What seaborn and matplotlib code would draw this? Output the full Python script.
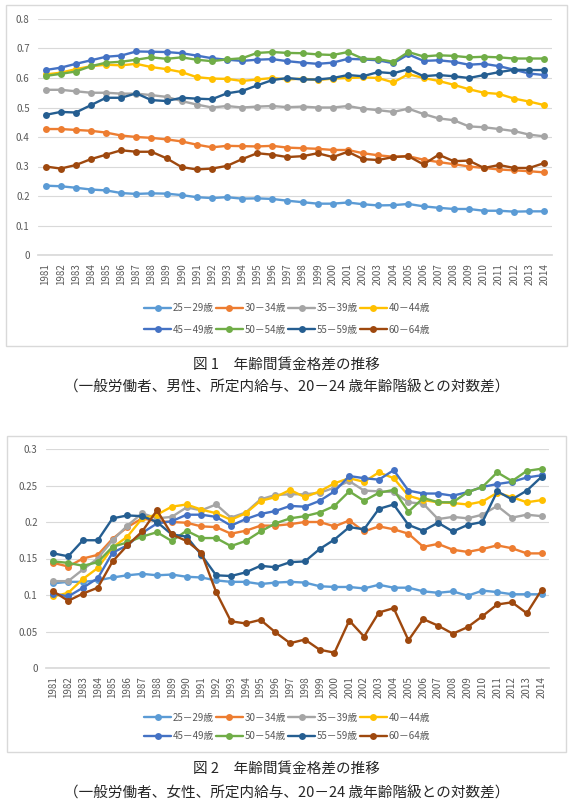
import numpy as np
import pandas as pd
import matplotlib
matplotlib.use("Agg")
import matplotlib.pyplot as plt
from matplotlib.patches import Rectangle
import seaborn as sns

years = list(range(1981, 2015))
ages = ["25－29歳", "30－34歳", "35－39歳", "40－44歳",
        "45－49歳", "50－54歳", "55－59歳", "60－64歳"]
colors = ["#5B9BD5", "#ED7D31", "#A5A5A5", "#FFC000",
          "#4472C4", "#70AD47", "#255E91", "#9E480E"]

# 図1 男性
male_25_29 = [0.235, 0.233, 0.228, 0.222, 0.219, 0.210, 0.207, 0.209, 0.208, 0.203, 0.196, 0.193,
              0.196, 0.191, 0.192, 0.190, 0.184, 0.179, 0.174, 0.174, 0.178, 0.172, 0.168, 0.169,
              0.173, 0.165, 0.160, 0.156, 0.156, 0.150, 0.150, 0.147, 0.148, 0.148]
male_30_34 = [0.427, 0.427, 0.424, 0.421, 0.415, 0.405, 0.400, 0.397, 0.392, 0.385, 0.374, 0.365,
              0.370, 0.369, 0.368, 0.370, 0.364, 0.362, 0.360, 0.356, 0.356, 0.345, 0.338, 0.333,
              0.335, 0.323, 0.315, 0.308, 0.300, 0.295, 0.290, 0.287, 0.284, 0.280]
male_35_39 = [0.560, 0.560, 0.555, 0.550, 0.550, 0.547, 0.547, 0.542, 0.536, 0.522, 0.510, 0.500,
              0.505, 0.500, 0.503, 0.505, 0.501, 0.503, 0.500, 0.500, 0.505, 0.496, 0.491, 0.485,
              0.496, 0.478, 0.463, 0.457, 0.436, 0.433, 0.427, 0.420, 0.408, 0.402]
male_40_44 = [0.612, 0.618, 0.630, 0.640, 0.645, 0.643, 0.648, 0.637, 0.630, 0.620, 0.603, 0.598,
              0.597, 0.590, 0.595, 0.600, 0.595, 0.598, 0.593, 0.598, 0.600, 0.602, 0.600, 0.585,
              0.613, 0.600, 0.590, 0.577, 0.562, 0.550, 0.546, 0.530, 0.520, 0.508]
male_45_49 = [0.627, 0.635, 0.648, 0.660, 0.672, 0.676, 0.690, 0.689, 0.688, 0.684, 0.676, 0.667,
              0.662, 0.658, 0.662, 0.664, 0.657, 0.652, 0.648, 0.652, 0.665, 0.663, 0.660, 0.650,
              0.680, 0.658, 0.660, 0.655, 0.645, 0.648, 0.640, 0.628, 0.615, 0.610]
male_50_54 = [0.607, 0.614, 0.622, 0.640, 0.652, 0.655, 0.662, 0.670, 0.665, 0.670, 0.662, 0.657,
              0.663, 0.667, 0.685, 0.688, 0.685, 0.684, 0.680, 0.678, 0.688, 0.665, 0.664, 0.655,
              0.688, 0.673, 0.677, 0.675, 0.670, 0.672, 0.670, 0.666, 0.666, 0.666]
male_55_59 = [0.475, 0.485, 0.483, 0.508, 0.533, 0.533, 0.548, 0.525, 0.522, 0.533, 0.530, 0.528,
              0.548, 0.556, 0.575, 0.593, 0.600, 0.595, 0.595, 0.600, 0.610, 0.606, 0.620, 0.616,
              0.630, 0.606, 0.610, 0.606, 0.600, 0.610, 0.620, 0.628, 0.627, 0.627]
male_60_64 = [0.300, 0.293, 0.305, 0.325, 0.340, 0.355, 0.350, 0.350, 0.328, 0.298, 0.290, 0.293,
              0.302, 0.325, 0.345, 0.340, 0.332, 0.335, 0.345, 0.332, 0.350, 0.325, 0.322, 0.332,
              0.335, 0.307, 0.340, 0.318, 0.320, 0.295, 0.305, 0.295, 0.295, 0.312]

# 図2 女性
female_25_29 = [0.116, 0.118, 0.118, 0.120, 0.124, 0.127, 0.129, 0.127, 0.128, 0.125, 0.124, 0.120,
                0.118, 0.118, 0.115, 0.117, 0.118, 0.117, 0.112, 0.111, 0.111, 0.109, 0.114, 0.110,
                0.110, 0.105, 0.103, 0.105, 0.099, 0.106, 0.104, 0.101, 0.101, 0.101]
female_30_34 = [0.144, 0.139, 0.150, 0.155, 0.177, 0.193, 0.205, 0.201, 0.200, 0.199, 0.194, 0.193,
                0.184, 0.188, 0.195, 0.195, 0.197, 0.200, 0.200, 0.194, 0.202, 0.187, 0.194, 0.190,
                0.184, 0.166, 0.170, 0.162, 0.159, 0.163, 0.168, 0.164, 0.157, 0.157]
female_35_39 = [0.119, 0.119, 0.135, 0.150, 0.175, 0.195, 0.212, 0.205, 0.207, 0.220, 0.216, 0.224,
                0.206, 0.213, 0.231, 0.237, 0.238, 0.238, 0.240, 0.247, 0.256, 0.243, 0.242, 0.241,
                0.227, 0.225, 0.204, 0.207, 0.205, 0.210, 0.222, 0.206, 0.210, 0.208]
female_40_44 = [0.098, 0.103, 0.122, 0.137, 0.165, 0.180, 0.205, 0.210, 0.221, 0.224, 0.217, 0.212,
                0.203, 0.212, 0.229, 0.234, 0.244, 0.234, 0.242, 0.253, 0.260, 0.255, 0.268, 0.260,
                0.236, 0.230, 0.227, 0.226, 0.224, 0.228, 0.240, 0.234, 0.227, 0.230]
female_45_49 = [0.102, 0.098, 0.110, 0.123, 0.158, 0.168, 0.185, 0.198, 0.201, 0.210, 0.210, 0.207,
                0.195, 0.204, 0.211, 0.215, 0.222, 0.221, 0.229, 0.242, 0.263, 0.260, 0.258, 0.271,
                0.243, 0.239, 0.239, 0.236, 0.241, 0.248, 0.252, 0.255, 0.261, 0.264]
female_50_54 = [0.146, 0.144, 0.140, 0.145, 0.166, 0.172, 0.180, 0.186, 0.174, 0.188, 0.178, 0.178,
                0.167, 0.174, 0.187, 0.198, 0.205, 0.208, 0.213, 0.222, 0.242, 0.229, 0.240, 0.244,
                0.214, 0.233, 0.227, 0.227, 0.241, 0.248, 0.268, 0.256, 0.270, 0.273]
female_55_59 = [0.157, 0.153, 0.175, 0.175, 0.205, 0.209, 0.208, 0.200, 0.183, 0.180, 0.155, 0.127,
                0.126, 0.131, 0.140, 0.138, 0.145, 0.146, 0.163, 0.176, 0.193, 0.190, 0.218, 0.224,
                0.196, 0.188, 0.199, 0.187, 0.196, 0.200, 0.242, 0.231, 0.243, 0.262]
female_60_64 = [0.105, 0.092, 0.102, 0.110, 0.146, 0.168, 0.187, 0.216, 0.183, 0.174, 0.158, 0.104,
                0.064, 0.061, 0.066, 0.049, 0.034, 0.039, 0.025, 0.021, 0.065, 0.043, 0.076, 0.082,
                0.038, 0.067, 0.058, 0.047, 0.056, 0.071, 0.087, 0.090, 0.075, 0.107]

male = [male_25_29, male_30_34, male_35_39, male_40_44,
        male_45_49, male_50_54, male_55_59, male_60_64]
female = [female_25_29, female_30_34, female_35_39, female_40_44,
          female_45_49, female_50_54, female_55_59, female_60_64]


def long_df(series):
    rows = []
    for age, vals in zip(ages, series):
        for y, v in zip(years, vals):
            rows.append({"year": y, "value": v, "age": age})
    return pd.DataFrame(rows)


sns.set_theme(style="white")
plt.rcParams["font.family"] = ["Noto Sans CJK JP", "DejaVu Sans"]

W, H = 573, 800
fig = plt.figure(figsize=(W / 100, H / 100), dpi=100)
fig.patch.set_facecolor("white")


def px_axes(left, top, right, bottom):
    return fig.add_axes([left / W, 1 - bottom / H, (right - left) / W, (bottom - top) / H])


def draw_chart(series, box, ax_px, ymax, ystep, leg_y, leg_sp, cap_y, sub_y, subtitle, fignum):
    # 外枠
    fig.patches.append(Rectangle((box[0] / W, 1 - box[3] / H), (box[2] - box[0]) / W,
                                 (box[3] - box[1]) / H, transform=fig.transFigure,
                                 fill=False, edgecolor="#d9d9d9", linewidth=1.0))
    ax = px_axes(*ax_px)
    sns.lineplot(data=long_df(series), x="year", y="value", hue="age", hue_order=ages,
                 palette=colors, marker="o", markersize=5, markeredgewidth=0,
                 linewidth=1.7, ax=ax)
    ax.set_xlim(1980.5, 2014.5)
    ax.set_ylim(0, ymax)
    ticks = np.arange(0, ymax + ystep / 2, ystep)
    ax.set_yticks(ticks)
    ax.set_yticklabels([f"{t:g}" for t in ticks])
    ax.set_xticks(years)
    ax.set_xticklabels([str(y) for y in years], rotation=90)
    ax.tick_params(axis="both", length=0, labelsize=7, labelcolor="#595959", pad=6)
    ax.grid(axis="y", color="#d9d9d9", linewidth=0.8)
    ax.set_axisbelow(True)
    for s in ["top", "right", "left"]:
        ax.spines[s].set_visible(False)
    ax.spines["bottom"].set_color("#d9d9d9")
    ax.set_xlabel("")
    ax.set_ylabel("")
    handles, labels = ax.get_legend_handles_labels()
    ax.get_legend().remove()
    # 行方向に並べる (matplotlibは列方向に詰めるので並べ替え)
    order = [0, 4, 1, 5, 2, 6, 3, 7]
    fig.legend([handles[i] for i in order], [labels[i] for i in order], ncol=4, loc="center",
               bbox_to_anchor=(287 / W, 1 - leg_y / H),
               frameon=False, fontsize=7, handlelength=2.8, handletextpad=0.15,
               columnspacing=0.2, labelspacing=leg_sp, labelcolor="#595959")
    fig.text(0.5, 1 - cap_y / H, f"図 {fignum}　年齢間賃金格差の推移", ha="center", va="center",
             fontsize=10.5)
    fig.text(0.5, 1 - sub_y / H, subtitle, ha="center", va="center", fontsize=10.5)


draw_chart(male, (6, 5, 567, 346), (38, 19, 552, 255), 0.8, 0.1, 319, 1.2, 366, 387,
           "（一般労働者、男性、所定内給与、20－24 歳年齢階級との対数差）", 1)
draw_chart(female, (7, 436, 566, 752), (46, 449, 549, 668), 0.3, 0.05, 727, 0.9, 770, 793,
           "（一般労働者、女性、所定内給与、20－24 歳年齢階級との対数差）", 2)

fig.savefig("out.png", dpi=100, facecolor="white")
